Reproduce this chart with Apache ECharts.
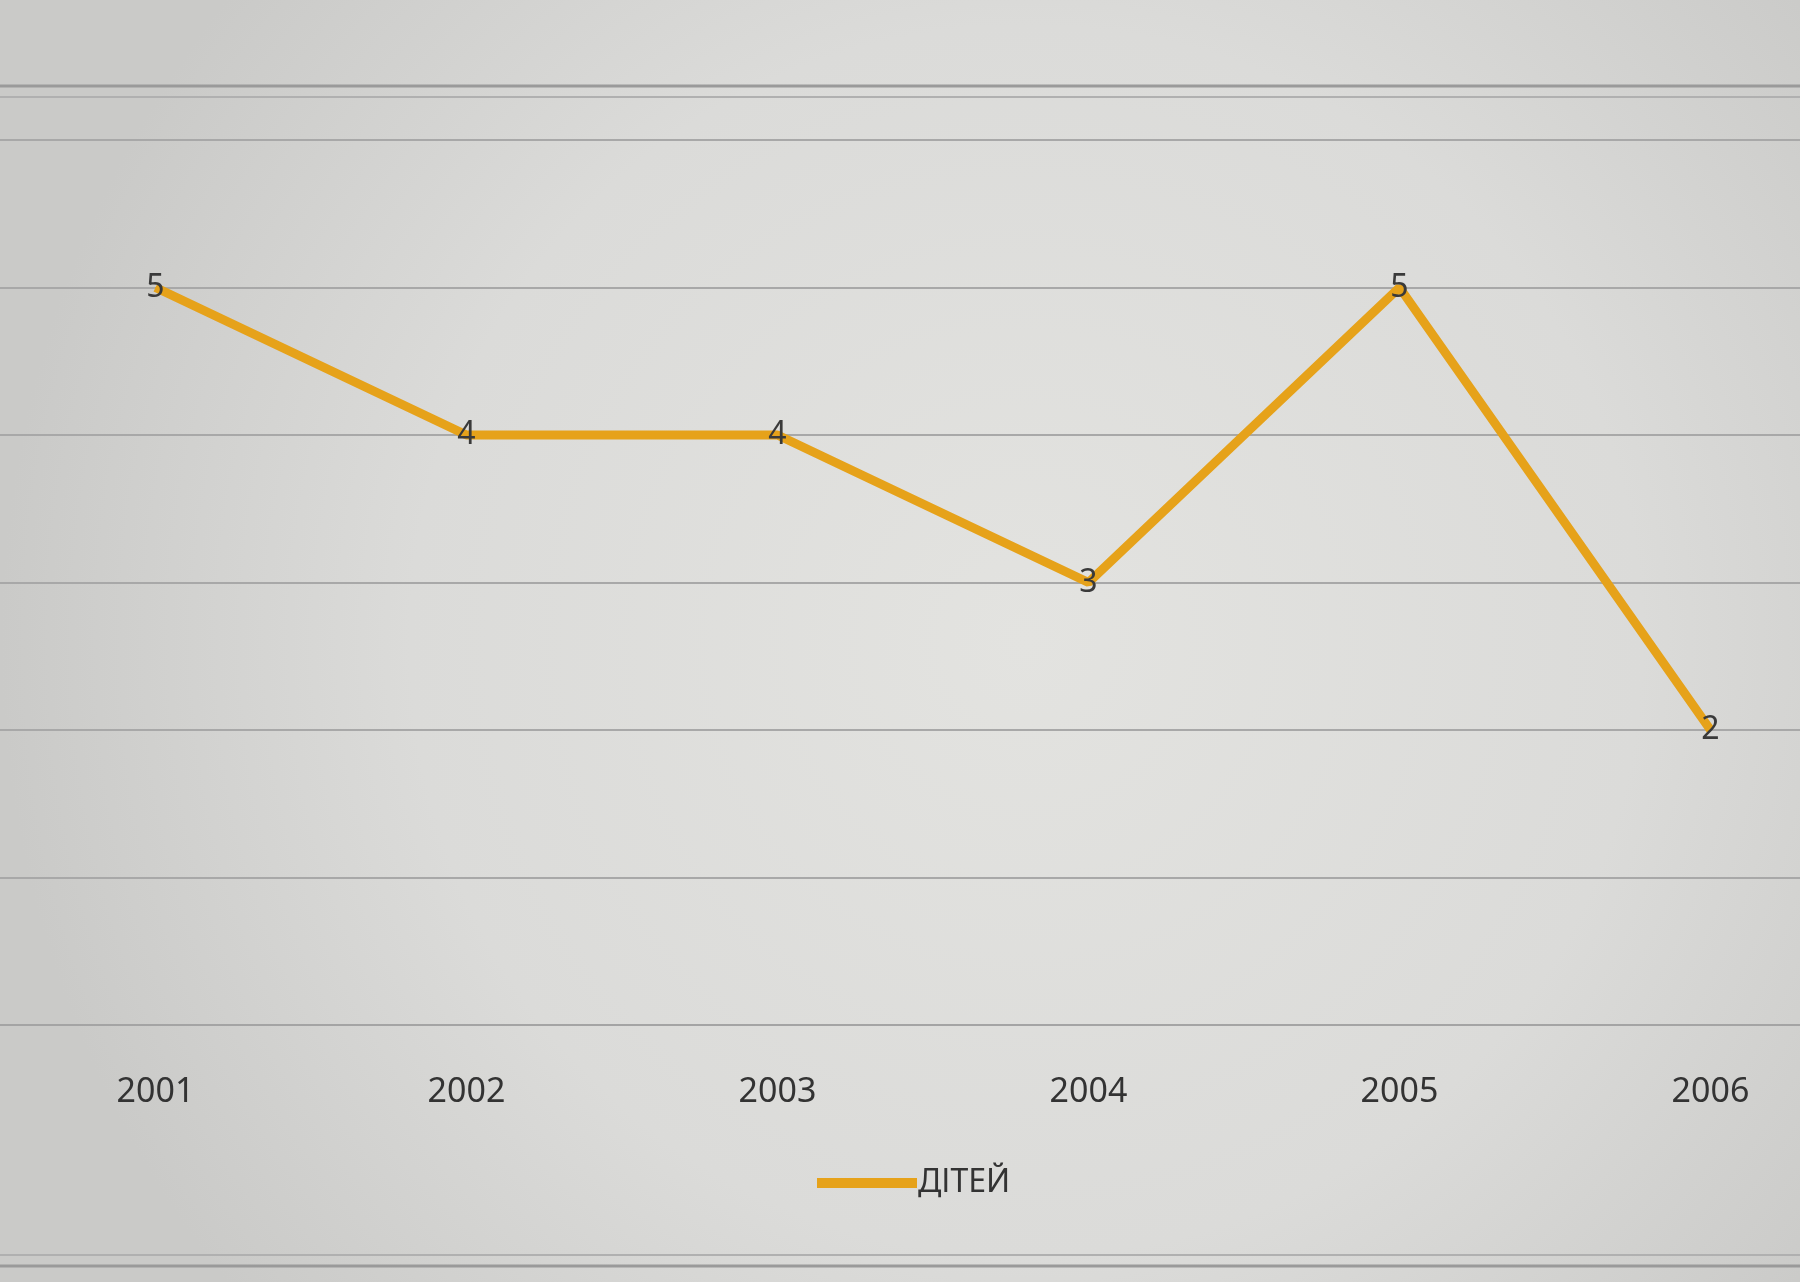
<!DOCTYPE html>
<html>
<head>
<meta charset="utf-8">
<style>
html,body{margin:0;padding:0;width:1800px;height:1282px;overflow:hidden;background:#d8d8d6;}
#chart{width:1866px;height:1282px;}
</style>
<script src="https://cdn.jsdelivr.net/npm/echarts@6/dist/echarts.min.js"></script>
</head>
<body>
<div id="chart"></div>
<script>
const categories = ['2001', '2002', '2003', '2004', '2005', '2006'];
const seriesName = 'ДІТЕЙ';
const values = [5, 4, 4, 3, 5, 2];
const yMin = 0, yMax = 6, yStep = 1;

const chart = echarts.init(document.getElementById('chart'));
chart.setOption({
  animation: false,
  backgroundColor: {
    type: 'radial', x: 0.55, y: 0.5, r: 0.8,
    colorStops: [
      { offset: 0, color: '#e3e3e0' },
      { offset: 0.6, color: '#dbdbd9' },
      { offset: 1, color: '#cacac8' }
    ]
  },
  graphic: [
    { type: 'rect', shape: { x: -10, y: 86, width: 1900, height: 1180 },
      style: { fill: 'none', stroke: '#9a9a9a', lineWidth: 3 } },
    { type: 'line', shape: { x1: 0, y1: 97, x2: 1866, y2: 97 },
      style: { stroke: '#b0b0b0', lineWidth: 2 } },
    { type: 'line', shape: { x1: 0, y1: 1255, x2: 1866, y2: 1255 },
      style: { stroke: '#b0b0b0', lineWidth: 2 } }
  ],
  grid: { left: 0, right: 0, top: 140, bottom: 257, containLabel: false },
  legend: {
    bottom: 78, left: 812,
    itemWidth: 100, itemHeight: 10, itemGap: 10,
    textStyle: { fontFamily: 'Noto Sans', fontSize: 32, color: '#333333', padding: [0, 0, 0, -4] },
    data: [{ name: seriesName, icon: 'rect' }]
  },
  xAxis: {
    type: 'category',
    data: categories,
    boundaryGap: true,
    axisLine: { show: true, lineStyle: { color: '#a4a4a4', width: 2 } },
    axisTick: { show: false },
    axisLabel: { margin: 50, fontFamily: 'Noto Sans', fontSize: 34, color: '#333333' }
  },
  yAxis: {
    type: 'value',
    min: yMin, max: yMax, interval: yStep,
    axisLabel: { show: false },
    axisLine: { show: false },
    axisTick: { show: false },
    splitLine: { lineStyle: { color: '#a8a8a8', width: 2 } }
  },
  series: [{
    name: seriesName,
    type: 'line',
    data: values,
    symbol: 'circle',
    symbolSize: 1,
    showSymbol: true,
    lineStyle: { color: '#e6a21a', width: 9 },
    itemStyle: { color: '#e6a21a' },
    label: {
      show: true, position: 'inside',
      fontFamily: 'Noto Sans', fontSize: 32, color: '#3a3a3a'
    }
  }]
});
</script>
</body>
</html>
